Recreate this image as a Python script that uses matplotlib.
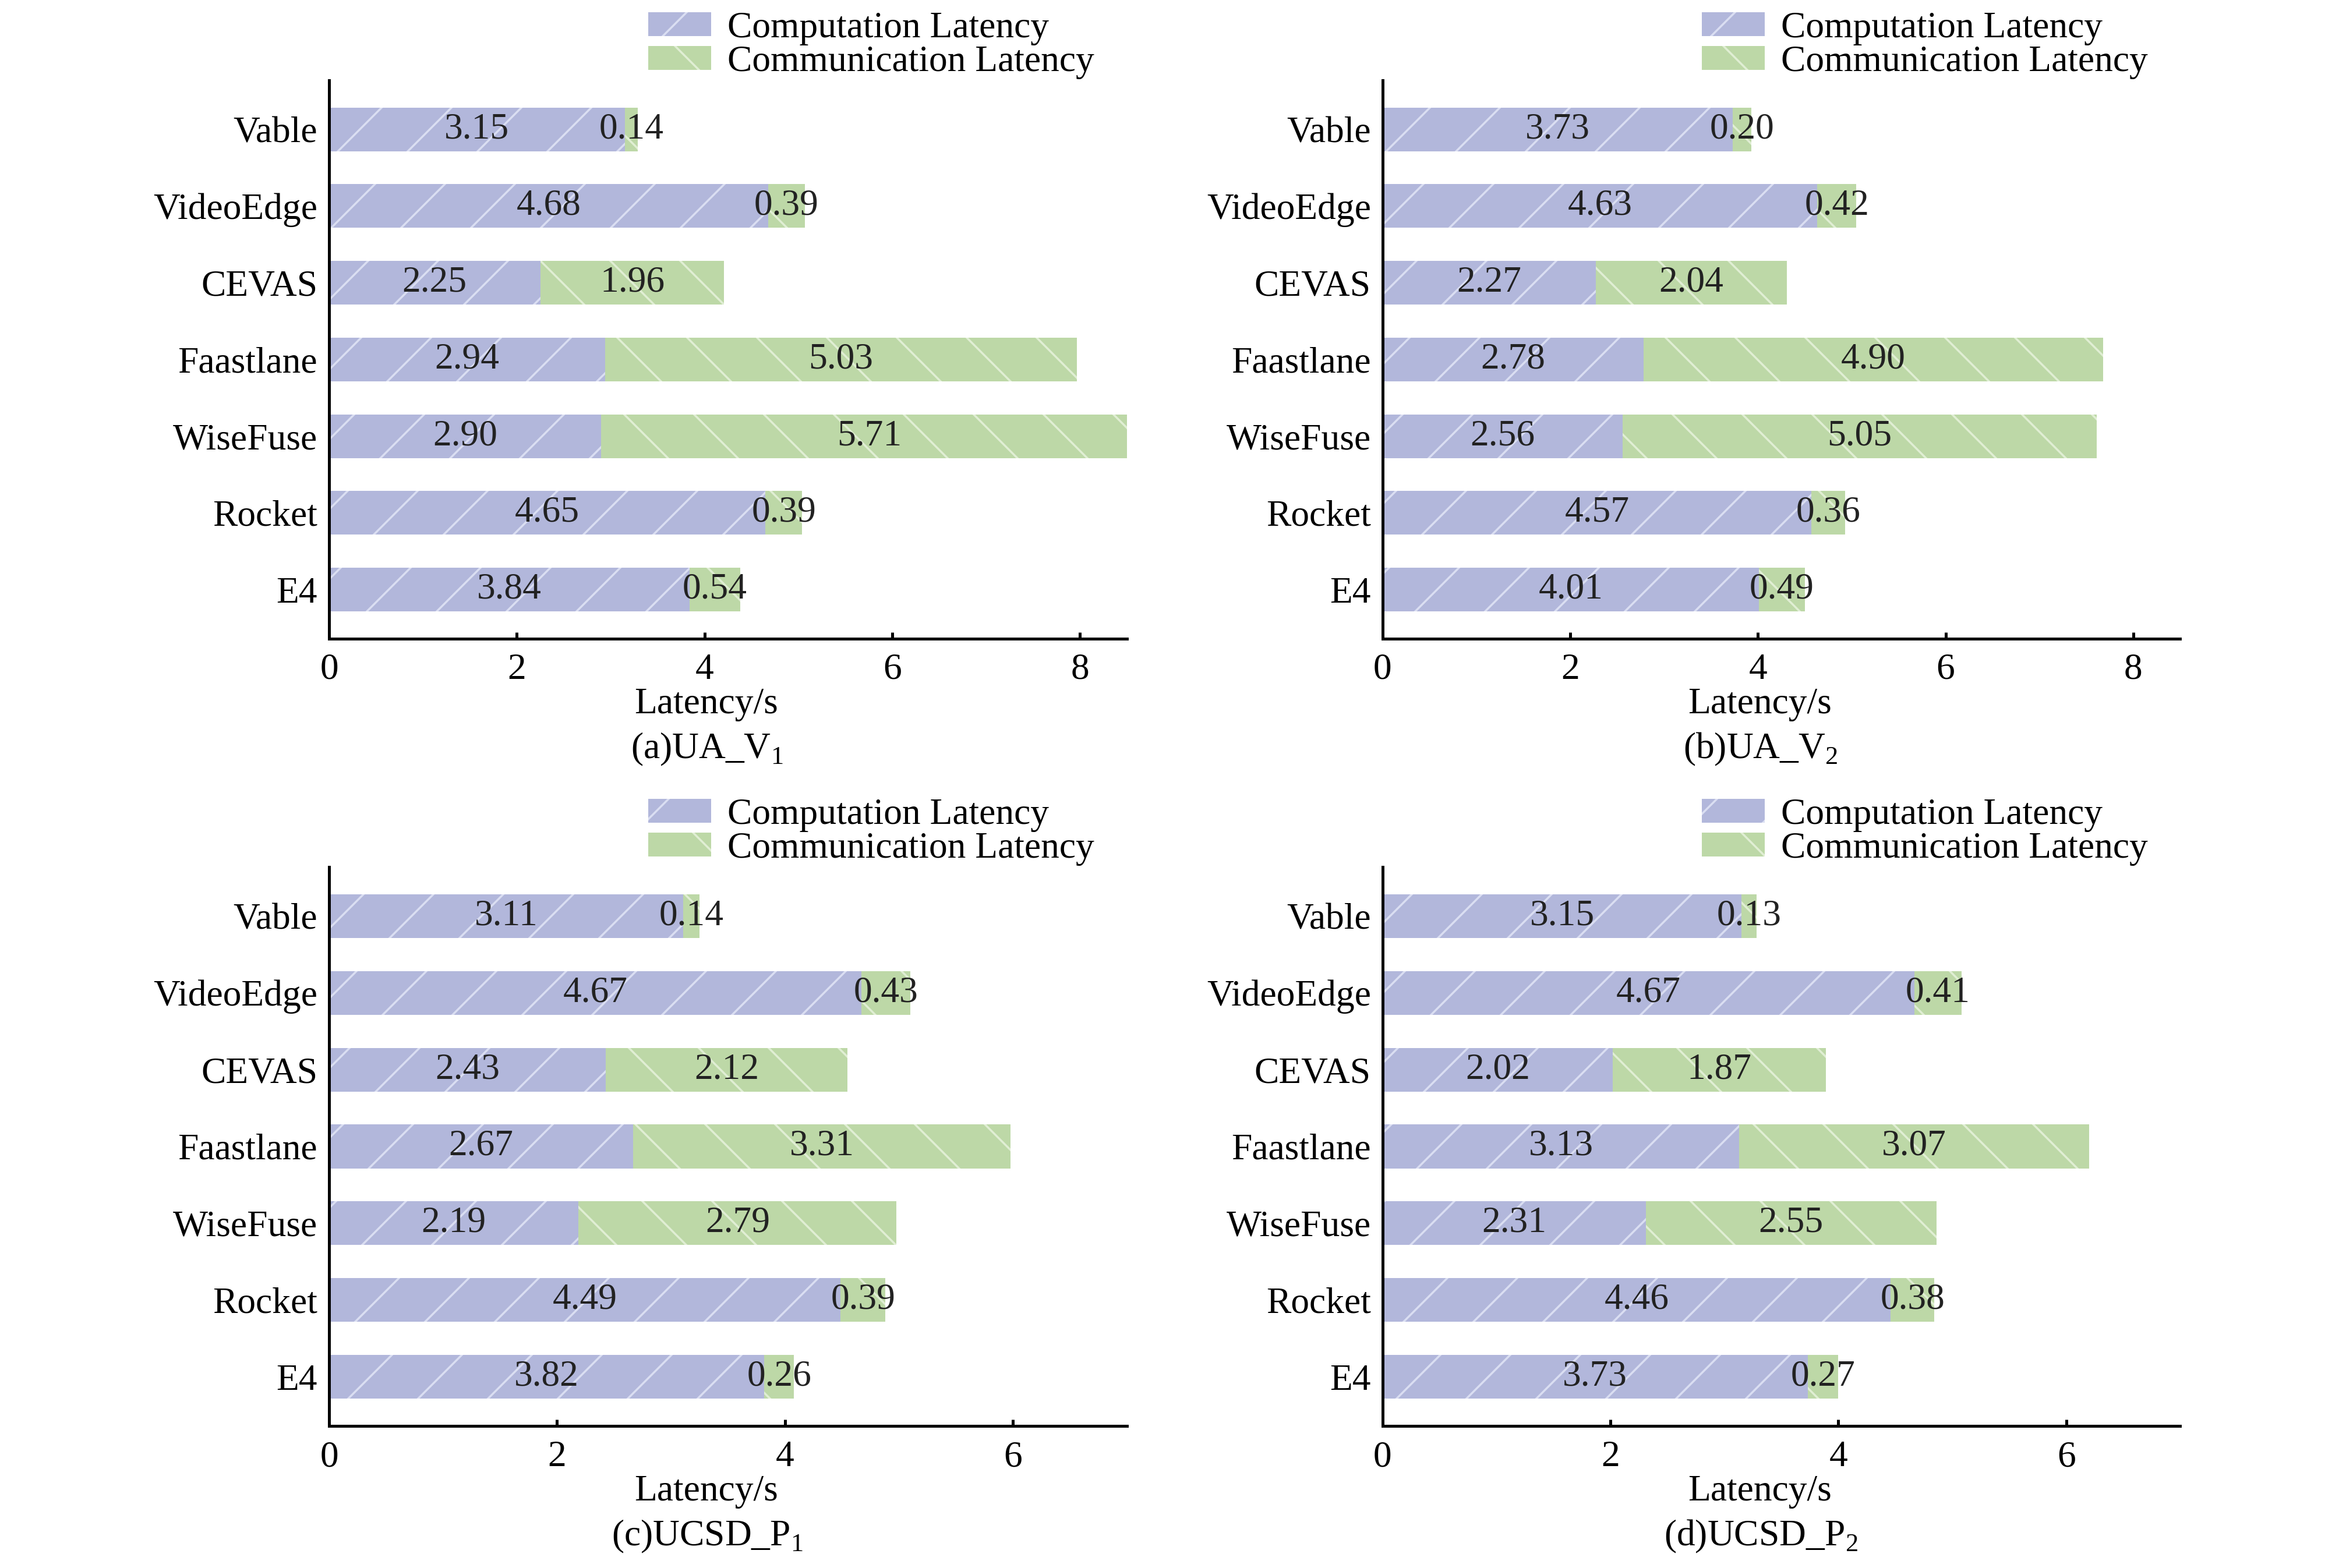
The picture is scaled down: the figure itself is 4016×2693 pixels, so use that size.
import numpy as np
import matplotlib.pyplot as plt
from matplotlib.patches import Patch

# methods listed top to bottom, as in the figure
methods = ["Vable", "VideoEdge", "CEVAS", "Faastlane", "WiseFuse", "Rocket", "E4"]

ua_v1_comp = [3.15, 4.68, 2.25, 2.94, 2.90, 4.65, 3.84]
ua_v1_comm = [0.14, 0.39, 1.96, 5.03, 5.71, 0.39, 0.54]

ua_v2_comp = [3.73, 4.63, 2.27, 2.78, 2.56, 4.57, 4.01]
ua_v2_comm = [0.20, 0.42, 2.04, 4.90, 5.05, 0.36, 0.49]

ucsd_p1_comp = [3.11, 4.67, 2.43, 2.67, 2.19, 4.49, 3.82]
ucsd_p1_comm = [0.14, 0.43, 2.12, 3.31, 2.79, 0.39, 0.26]

ucsd_p2_comp = [3.15, 4.67, 2.02, 3.13, 2.31, 4.46, 3.73]
ucsd_p2_comm = [0.13, 0.41, 1.87, 3.07, 2.55, 0.38, 0.27]

titles = [r"(a)UA_V$_\mathregular{1}$", r"(b)UA_V$_\mathregular{2}$",
          r"(c)UCSD_P$_\mathregular{1}$", r"(d)UCSD_P$_\mathregular{2}$"]
xmax = [8.5, 8.5, 7.0, 7.0]
xticks = [[0, 2, 4, 6, 8], [0, 2, 4, 6, 8], [0, 2, 4, 6], [0, 2, 4, 6]]

COMP_COLOR = "#b2b7db"
COMP_HATCH = "#dadef2"
COMM_COLOR = "#bdd8a7"
COMM_HATCH = "#e0eed4"

DPI = 360
plt.rcParams["font.family"] = ["Liberation Serif", "DejaVu Serif"]
plt.rcParams["mathtext.fontset"] = "custom"
plt.rcParams["mathtext.rm"] = "Liberation Serif"
plt.rcParams["font.size"] = 12.7
plt.rcParams["hatch.linewidth"] = 0.7

fig = plt.figure(figsize=(4016 / DPI, 2693 / DPI), dpi=DPI)

# axes boxes in figure fractions: [left, bottom, width, height]
boxes = [
    [0.1407, 0.5927, 0.3410, 0.3561],
    [0.5911, 0.5927, 0.3410, 0.3561],
    [0.1407, 0.0906, 0.3410, 0.3565],
    [0.5911, 0.0906, 0.3410, 0.3565],
]
data = [
    (ua_v1_comp, ua_v1_comm),
    (ua_v2_comp, ua_v2_comm),
    (ucsd_p1_comp, ucsd_p1_comm),
    (ucsd_p2_comp, ucsd_p2_comm),
]

ypos = np.arange(len(methods))[::-1]

for i, (comp, comm) in enumerate(data):
    ax = fig.add_axes(boxes[i])
    comp = np.array(comp)
    comm = np.array(comm)

    ax.barh(ypos, comp, height=0.57, color=COMP_COLOR, edgecolor=COMP_HATCH,
            linewidth=0, hatch="/")
    ax.barh(ypos, comm, left=comp, height=0.57, color=COMM_COLOR,
            edgecolor=COMM_HATCH, linewidth=0, hatch="\\")

    for y, a, b in zip(ypos, comp, comm):
        ax.text(a / 2, y, f"{a:.2f}", ha="center", va="center", color="#222222")
        ax.text(a + b / 2, y, f"{b:.2f}", ha="center", va="center", color="#222222")

    ax.set_xlim(0, xmax[i])
    ax.set_ylim(-0.64, 6.64)
    ax.set_xticks(xticks[i])
    ax.set_yticks(ypos)
    ax.set_yticklabels(methods)

    for side in ["top", "right"]:
        ax.spines[side].set_visible(False)
    for side in ["left", "bottom"]:
        ax.spines[side].set_linewidth(1.0)
    ax.tick_params(axis="x", direction="in", length=2.3, width=1.0, pad=5)
    ax.tick_params(axis="y", length=0, pad=4)

    # axis label and panel caption sit a little left of the axes centre
    ax.set_xlabel("Latency/s", va="center")
    ax.xaxis.set_label_coords(0.473, -0.118)
    ax.text(0.474, -0.198, titles[i], transform=ax.transAxes, ha="center", va="center")

    handles = [
        Patch(facecolor=COMP_COLOR, edgecolor=COMP_HATCH, linewidth=0, hatch="/",
              label="Computation Latency"),
        Patch(facecolor=COMM_COLOR, edgecolor=COMM_HATCH, linewidth=0, hatch="\\",
              label="Communication Latency"),
    ]
    ax.legend(handles=handles, loc="upper left", bbox_to_anchor=(0.4, 1.123),
              frameon=False, borderpad=0, borderaxespad=0, labelspacing=0.0,
              handlelength=1.7, handleheight=0.6, handletextpad=0.45)

fig.savefig("out.png", dpi=DPI)
